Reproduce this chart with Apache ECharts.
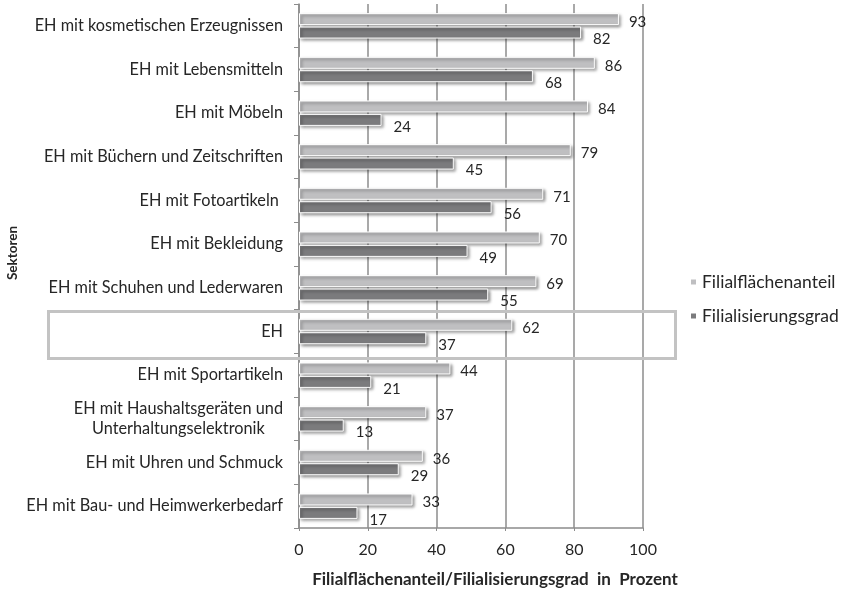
<!DOCTYPE html>
<html><head><meta charset="utf-8">
<script src="https://cdn.jsdelivr.net/npm/echarts@6/dist/echarts.min.js"></script>
<style>html,body{margin:0;padding:0;background:#fff}#c{width:850px;height:593px}</style>
</head><body><div id="c"></div>
<script>
const categories = ['EH mit kosmetischen Erzeugnissen','EH mit Lebensmitteln','EH mit Möbeln','EH mit Büchern und Zeitschriften','EH mit Fotoartikeln ','EH mit Bekleidung','EH mit Schuhen und Lederwaren','EH','EH mit Sportartikeln','EH mit Haushaltsgeräten und\nUnterhaltungselektronik','EH mit Uhren und Schmuck','EH mit Bau- und Heimwerkerbedarf'];
const filialflaechenanteil = [93,86,84,79,71,70,69,62,44,37,36,33];
const filialisierungsgrad = [82,68,24,45,56,49,55,37,21,13,29,17];
const xTicks = [0,20,40,60,80,100];
const highlightCategory = 'EH';

const FONT = 'Lato';
const TXT = '#262626';
const chart = echarts.init(document.getElementById('c'), null, {renderer:'canvas'});
const barStyle = (color) => ({
  color: color, borderColor:'#fff', borderWidth:1,
  shadowColor:'rgba(0,0,0,0.45)', shadowBlur:3, shadowOffsetX:2, shadowOffsetY:2
});
chart.setOption({
  animation:false,
  textStyle:{fontFamily:FONT},
  grid:{left:299, right:207, top:4, bottom:63, containLabel:false},
  legend:{
    orient:'vertical', left:684, top:268, itemWidth:7, itemHeight:7, itemGap:16,
    icon:'rect', textStyle:{fontFamily:FONT, fontSize:17.5, color:TXT},
    data:['Filialflächenanteil','Filialisierungsgrad']
  },
  xAxis:{
    type:'value', min:xTicks[0], max:xTicks[xTicks.length-1], interval:20,
    axisLine:{show:true, lineStyle:{color:'#8c8c8c', width:1.5}},
    axisTick:{show:true, length:3, lineStyle:{color:'#8c8c8c'}},
    splitLine:{show:true, lineStyle:{color:'#8c8c8c', width:1.5}},
    axisLabel:{fontFamily:FONT, fontSize:16, color:TXT, margin:14},
    name:'Filialflächenanteil/Filialisierungsgrad  in  Prozent',
    nameLocation:'middle', nameGap:43,
    nameTextStyle:{fontFamily:FONT, fontSize:17, fontWeight:'bold', color:TXT, padding:[0,0,0,48]}
  },
  yAxis:{
    type:'category', data:categories, inverse:true,
    axisLine:{show:true, lineStyle:{color:'#8c8c8c', width:1.5}},
    axisTick:{show:true, length:5, lineStyle:{color:'#8c8c8c'}},
    axisLabel:{fontFamily:FONT, fontSize:16.3, color:TXT, margin:16, lineHeight:20,
      formatter:(v)=>v.split('\n').map(s=>'{c|'+s+'}').join('\n'),
      rich:{c:{align:'center', fontFamily:FONT, fontSize:16.3, color:TXT, lineHeight:20}}
    }
  },
  series:[
    {name:'Filialflächenanteil', type:'bar', data:filialflaechenanteil, barWidth:12, barGap:'12%',
      itemStyle:barStyle('#bfbfc1'),
      label:{show:true, position:'right', distance:10, offset:[0,3], fontFamily:FONT, fontSize:15, color:TXT}},
    {name:'Filialisierungsgrad', type:'bar', data:filialisierungsgrad, barWidth:12, barGap:'12%',
      itemStyle:barStyle('#7b7b7d'),
      label:{show:true, position:'right', distance:12, offset:[0,7], fontFamily:FONT, fontSize:15, color:TXT}}
  ]
});
const yc = chart.convertToPixel({yAxisIndex:0}, highlightCategory);
chart.setOption({
  graphic:[
    {type:'rect', left:46, top:yc-22.5, z:100,
      shape:{width:627, height:47}, style:{fill:'none', stroke:'#c3c3c3', lineWidth:3}},
    {type:'text', x:12.5, y:253, rotation:Math.PI/2, z:100,
      style:{text:'Sektoren', fontFamily:FONT, fontSize:13.5, fontWeight:'bold', fill:TXT, align:'center', verticalAlign:'middle'}}
  ]
});
</script></body></html>
